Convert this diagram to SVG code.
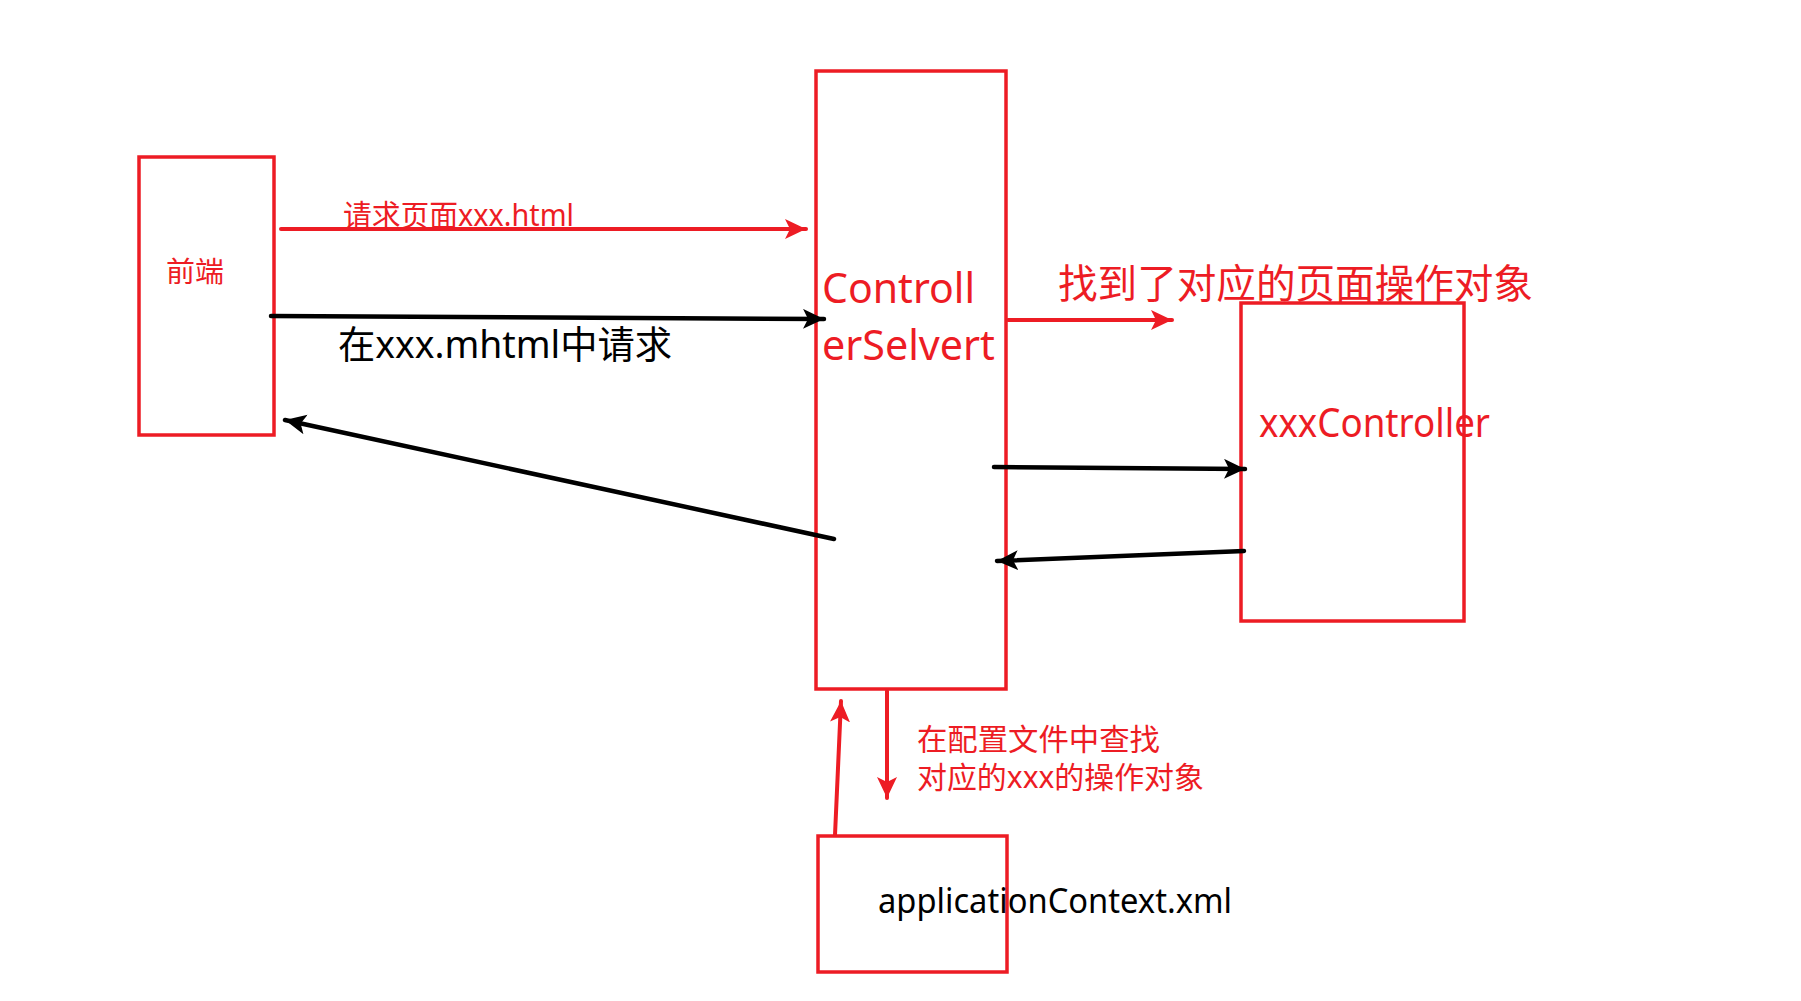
<svg xmlns="http://www.w3.org/2000/svg" width="1801" height="1001" viewBox="0 0 1801 1001">
<style>
.box{fill:none;stroke:#ED1C24;stroke-width:3.5}
.t{font-family:"Noto Sans","Noto Sans CJK SC",sans-serif}
.red{fill:#ED1C24}
.blk{fill:#000}
.cr{stroke:#ED1C24;stroke-width:4;fill:none;stroke-linecap:round;marker-end:url(#ar)}
.cb{stroke:#000;stroke-width:4.5;fill:none;stroke-linecap:round;marker-end:url(#ab)}
</style>
<defs>
<marker id="ar" markerUnits="userSpaceOnUse" markerWidth="26" markerHeight="26" refX="21" refY="10" orient="auto"><path d="M0,0 L21,10 L0,20 L5,10 z" fill="#ED1C24"/></marker>
<marker id="ab" markerUnits="userSpaceOnUse" markerWidth="26" markerHeight="26" refX="21" refY="10" orient="auto"><path d="M0,0 L21,10 L0,20 L5,10 z" fill="#000"/></marker>
</defs>
<rect width="1801" height="1001" fill="#fff"/>
<g id="frontend">
<rect class="box" x="139" y="157" width="135" height="278"/>
<text class="t red" x="166" y="282" font-size="28" textLength="58" lengthAdjust="spacingAndGlyphs">前端</text>
</g>
<g id="controllerServlet">
<rect class="box" x="816" y="71" width="190" height="618"/>
<text class="t red" x="822" y="303" font-size="42" textLength="153" lengthAdjust="spacingAndGlyphs">Controll</text>
<text class="t red" x="822" y="360" font-size="42" textLength="173" lengthAdjust="spacingAndGlyphs">erSelvert</text>
</g>
<g id="xxxController">
<rect class="box" x="1241" y="303" width="223" height="318"/>
<text class="t red" x="1259" y="437" font-size="40" textLength="231" lengthAdjust="spacingAndGlyphs">xxxController</text>
</g>
<g id="applicationContext">
<rect class="box" x="818" y="836" width="189" height="136"/>
<text class="t blk" x="878" y="913" font-size="35" textLength="354" lengthAdjust="spacingAndGlyphs">applicationContext.xml</text>
</g>
<g id="connectors">
<line class="cr" x1="281" y1="229" x2="806" y2="229"/>
<line class="cb" x1="271" y1="316" x2="824" y2="319"/>
<line class="cb" x1="834" y1="539" x2="285" y2="420"/>
<line class="cr" x1="1008" y1="320" x2="1172" y2="320"/>
<line class="cb" x1="994" y1="467" x2="1245" y2="469"/>
<line class="cb" x1="1244" y1="551" x2="997" y2="561"/>
<line class="cr" x1="887" y1="691" x2="887" y2="798"/>
<line class="cr" x1="835" y1="835" x2="841" y2="701"/>
</g>
<g id="labels">
<text class="t red" x="343" y="226" font-size="30" textLength="231" lengthAdjust="spacingAndGlyphs">请求页面xxx.html</text>
<text class="t blk" x="338" y="358" font-size="38" textLength="334" lengthAdjust="spacingAndGlyphs">在xxx.mhtml中请求</text>
<text class="t red" x="1058" y="298" font-size="39.5" textLength="475" lengthAdjust="spacingAndGlyphs">找到了对应的页面操作对象</text>
<text class="t red" x="917" y="750" font-size="30" textLength="243" lengthAdjust="spacingAndGlyphs">在配置文件中查找</text>
<text class="t red" x="917" y="788" font-size="30" textLength="287" lengthAdjust="spacingAndGlyphs">对应的xxx的操作对象</text>
</g>
</svg>
